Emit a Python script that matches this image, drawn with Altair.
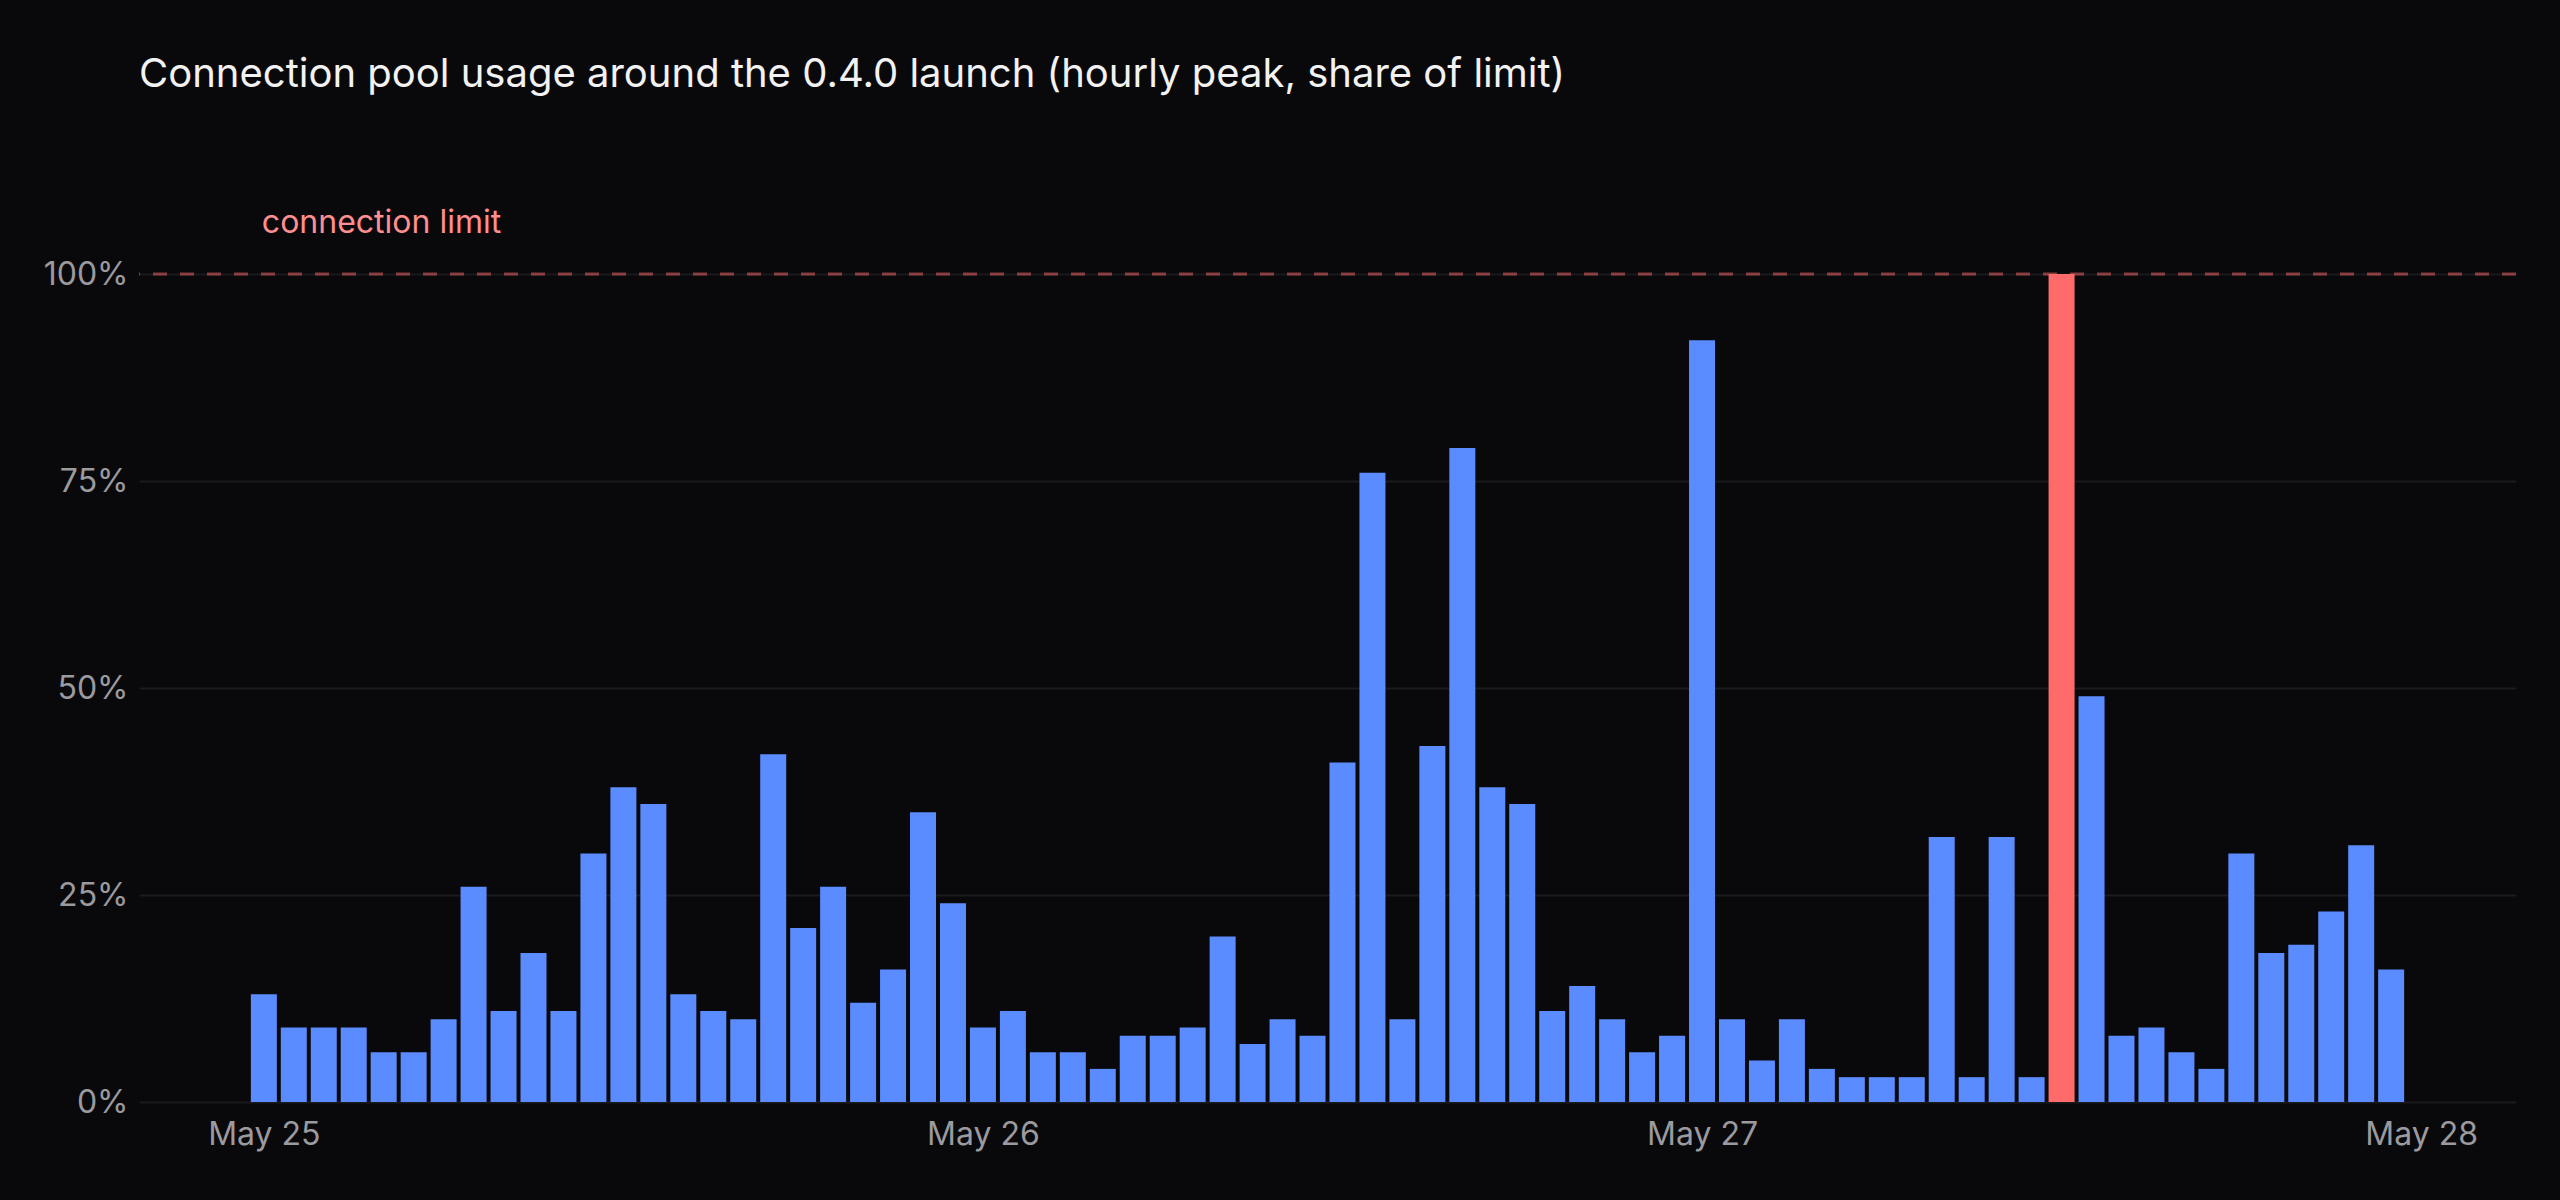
import altair as alt
import pandas as pd
import jinja2

# Hourly peak connection-pool usage (share of limit), May 25 00:00 .. May 27 23:00
start = "2025-05-25 00:00"
usage_pct = [
    13, 9, 9, 9, 6, 6, 10, 26, 11, 18, 11, 30, 38, 36, 13, 11, 10, 42, 21, 26, 12, 16, 35, 24,
    9, 11, 6, 6, 4, 8, 8, 9, 20, 7, 10, 8, 41, 76, 10, 43, 79, 38, 36, 11, 14, 10, 6, 8,
    92, 10, 5, 10, 4, 3, 3, 3, 32, 3, 32, 3, 100, 49, 8, 9, 6, 4, 30, 18, 19, 23, 31, 16,
]
tick_days = ["2025-05-25", "2025-05-26", "2025-05-27", "2025-05-28"]
limit = 1.0
title_text = "Connection pool usage around the 0.4.0 launch (hourly peak, share of limit)"
limit_label = "connection limit"

hours = pd.date_range(start, periods=len(usage_pct), freq="h")
df = pd.DataFrame({
    "hour": hours.strftime("%Y-%m-%dT%H:%M:%S"),
    "usage": [v / 100 for v in usage_pct],
})

BG = "#09090b"
BLUE = "#5b8cff"
RED = "#ff6b6b"
GRID = "#1b1b1f"
LABEL = "#9a9a9f"
FONT = "Inter"

x_scale = alt.Scale(domain=[alt.DateTime(year=2025, month=5, date=24, hours=20),
                            alt.DateTime(year=2025, month=5, date=28, hours=3)])
y_scale = alt.Scale(domain=[0, 1])

x_axis = alt.Axis(
    values=[alt.DateTime(year=2025, month=5, date=int(d[-2:])) for d in tick_days],
    format="%b %d", grid=False, domain=False, ticks=False, labelPadding=17,
    labelFontSize=32, labelColor=LABEL, labelFont=FONT, title=None,
)
y_axis = alt.Axis(
    values=[0, 0.25, 0.5, 0.75, 1.0], format=".0%", grid=True, gridColor=GRID,
    gridWidth=2, domain=False, ticks=False, labelPadding=11, labelFontSize=32,
    labelColor=LABEL, labelFont=FONT, title=None,
)

base = alt.Chart(df)

rule = alt.Chart(pd.DataFrame({"limit": [limit]})).mark_rule(
    color=RED, opacity=0.5, strokeWidth=3, strokeDash=[14, 13]
).encode(y=alt.Y("limit:Q", scale=y_scale, axis=y_axis))

bars = base.mark_bar(width=26).encode(
    x=alt.X("hour:T", scale=x_scale, axis=x_axis),
    y=alt.Y("usage:Q", scale=y_scale, axis=y_axis),
    color=alt.condition(alt.datum.usage >= limit, alt.value(RED), alt.value(BLUE)),
)

label = alt.Chart(pd.DataFrame({"t": [limit_label]})).mark_text(
    align="left", baseline="alphabetic", dy=-41, dx=-2, font=FONT, fontSize=32, color="#ff8f8f"
).encode(
    x=alt.datum(alt.DateTime(year=2025, month=5, date=25), type="temporal"),
    y=alt.datum(limit),
    text="t:N",
)

chart = alt.layer(rule, bars, label).properties(
    width=2377,
    height=828,
    autosize=alt.AutoSizeParams(type="none"),
    padding={"left": 131, "top": 266, "right": 36, "bottom": 80},
    background=BG,
    title=alt.TitleParams(
        title_text, anchor="start", frame="group", font=FONT, fontSize=40,
        fontWeight="normal", color="#f2f2f2", offset=112,
    ),
).configure_view(stroke=None)

page_template = jinja2.Template("""<!DOCTYPE html>
<html>
<head>
  <meta charset="utf-8">
  <style>
    html, body { background: """ + BG + """; }
    #{{ output_div }}.vega-embed { width: 100%; display: flex; }
  </style>
  <script type="text/javascript" src="{{ base_url }}/vega@{{ vega_version }}"></script>
  <script type="text/javascript" src="{{ base_url }}/vega-lite@{{ vegalite_version }}"></script>
  <script type="text/javascript" src="{{ base_url }}/vega-embed@{{ vegaembed_version }}"></script>
</head>
<body>
  <div id="{{ output_div }}"></div>
  <script type="text/javascript">
    vegaEmbed("#{{ output_div }}", {{ spec }}, {{ embed_options }}).catch(console.error);
  </script>
</body>
</html>
""")

chart.save("out.html", embed_options={"renderer": "svg", "actions": False}, template=page_template)
